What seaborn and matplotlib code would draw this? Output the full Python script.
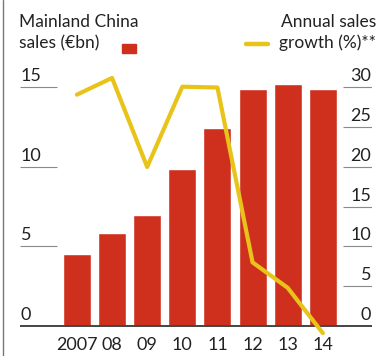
import numpy as np
import pandas as pd
import matplotlib.pyplot as plt
import matplotlib.transforms as mtransforms
from matplotlib.lines import Line2D
from matplotlib.patches import Rectangle
import seaborn as sns

YEARS = ["2007", "08", "09", "10", "11", "12", "13", "14"]
SALES_BN = [4.5, 5.85, 7.0, 9.9, 12.45, 14.9, 15.2, 14.9]        # left axis, €bn
GROWTH_PCT = [29.1, 31.2, 20.0, 30.1, 30.0, 8.0, 4.8, -0.9]       # right axis, %
LEFT_TICKS = [0, 5, 10, 15]
RIGHT_TICKS = [0, 5, 10, 15, 20, 25, 30]

RED = "#cf301e"
YELLOW = "#e8c41a"
GRID = "#8a8a8a"
TEXT = "#222222"
NUM_SIZE = 13

sns.set_style("white")
plt.rcParams["font.family"] = ["Lato", "DejaVu Sans"]

W, H = 387, 356
fig = plt.figure(figsize=(W / 100, H / 100), dpi=100)

# axes placed in pixels: x 20..372, y bottom 335.5 .. top 71.6
ax = fig.add_axes([20 / W, (H - 335.5) / H, (372 - 20) / W, (335.5 - 71.6) / H])
df = pd.DataFrame({"year": YEARS, "sales": SALES_BN})
sns.barplot(data=df, x="year", y="sales", order=YEARS, color=RED,
            saturation=1, width=0.8, ax=ax)
ax.set_xlim(-1.62, 8.4)
ax.set_ylim(-0.6, 16)

ax2 = ax.twinx()
sns.lineplot(x=np.arange(len(YEARS)), y=GROWTH_PCT, color=YELLOW,
             linewidth=3.0, ax=ax2, clip_on=False, zorder=5)
ax2.set_ylim(-1.2, 32)
ax2.set_xlim(-1.62, 8.4)

for a in (ax, ax2):
    for s in a.spines.values():
        s.set_visible(False)
    a.set_yticks([])
    a.set_xlabel("")
    a.set_ylabel("")
    a.grid(False)

ax.tick_params(axis="x", length=0, pad=1.0, labelsize=NUM_SIZE, labelcolor=TEXT)

# baseline
ax.hlines(0, -1.62, 8.4, color="#444444", linewidth=1.4, zorder=6)

# left-hand gridlines and labels
off = mtransforms.ScaledTranslation(0, 6 / 100, fig.dpi_scale_trans)
for t in LEFT_TICKS:
    if t > 0:
        ax.hlines(t, -1.62, -0.57, color=GRID, linewidth=0.8)
    ax.text(-1.6, t, str(t), ha="left", va="baseline", fontsize=NUM_SIZE,
            color=TEXT, transform=ax.transData + off)

# right-hand gridlines and labels
for t in RIGHT_TICKS:
    if t > 0:
        ax2.hlines(t, 7.58, 8.4, color=GRID, linewidth=0.8)
    ax2.text(8.38, t, str(t), ha="right", va="baseline", fontsize=NUM_SIZE,
             color=TEXT, transform=ax2.transData + off)

# header / legend
fig.text(19 / W, 1 - 27 / H, "Mainland China", ha="left", va="baseline",
         fontsize=12.5, color=TEXT)
fig.text(19 / W, 1 - 48 / H, "sales (€bn)", ha="left", va="baseline",
         fontsize=12.5, color=TEXT)
fig.patches.append(Rectangle((122 / W, 1 - 53 / H), 14 / W, 9 / H,
                             transform=fig.transFigure, color=RED))
fig.text(376 / W, 1 - 27 / H, "Annual sales", ha="right", va="baseline",
         fontsize=12.5, color=TEXT)
fig.text(376 / W, 1 - 48 / H, "growth (%)**", ha="right", va="baseline",
         fontsize=12.5, color=TEXT)
fig.lines.append(Line2D([246 / W, 268 / W], [1 - 44 / H, 1 - 44 / H],
                        transform=fig.transFigure, color=YELLOW, linewidth=3.2))

# left frame edge
fig.lines.append(Line2D([2.5 / W, 2.5 / W], [0, 1], transform=fig.transFigure,
                        color="#777777", linewidth=1.0))

fig.savefig("out.png", dpi=100)
